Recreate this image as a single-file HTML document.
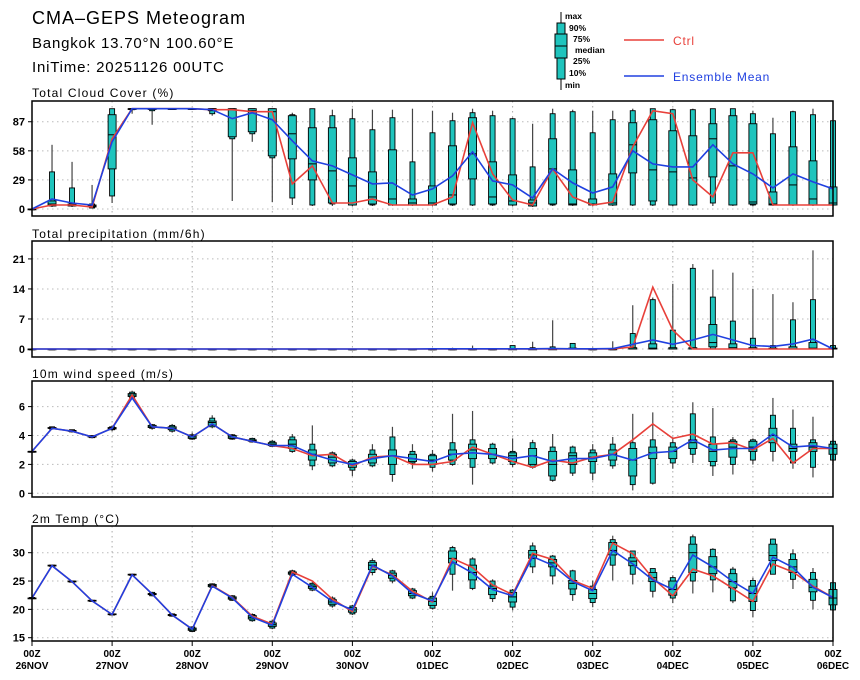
<!DOCTYPE html>
<html><head><meta charset="utf-8"><style>
html,body{margin:0;padding:0;background:#fff}
svg{display:block;font-family:"Liberation Sans",sans-serif}
</style></head><body>
<svg id="chart" width="860" height="680" viewBox="0 0 860 680" xmlns="http://www.w3.org/2000/svg">
<text x="32" y="24" font-size="18" letter-spacing="1">CMA–GEPS Meteogram</text>
<text x="32" y="48" font-size="15" letter-spacing="0.8">Bangkok 13.70°N 100.60°E</text>
<text x="32" y="72" font-size="15" letter-spacing="0.8">IniTime: 20251126 00UTC</text>
<g font-size="8.5" font-weight="bold">
<line x1="561" y1="12" x2="561" y2="90" stroke="#000"/>
<rect x="557" y="23" width="8" height="56" fill="#1fc4bd" stroke="#000"/>
<rect x="555" y="34" width="12" height="24" fill="#1fc4bd" stroke="#000"/>
<line x1="555" y1="46" x2="567" y2="46" stroke="#000"/>
<text x="565" y="19">max</text><text x="569" y="31">90%</text><text x="573" y="42">75%</text>
<text x="575" y="53">median</text><text x="573" y="64">25%</text><text x="569" y="76">10%</text><text x="565" y="88">min</text>
<line x1="624" y1="40" x2="664" y2="40" stroke="#e8403a" stroke-width="1.5"/>
<text x="673" y="45" font-size="12" font-weight="normal" fill="#e8403a" letter-spacing="0.8">Ctrl</text>
<line x1="624" y1="76" x2="664" y2="76" stroke="#2040e0" stroke-width="1.5"/>
<text x="673" y="81" font-size="12" font-weight="normal" fill="#2040e0" letter-spacing="0.8">Ensemble Mean</text>
</g>
</svg>
<script>
const dayLabels = ["26NOV","27NOV","28NOV","29NOV","30NOV","01DEC","02DEC","03DEC","04DEC","05DEC","06DEC"];
const cloudTicks = [0,29,58,87];
const precipTicks = [0,7,14,21];
const windTicks = [0,2,4,6];
const tempTicks = [15,20,25,30];
const cloudCtrl = [0,4,4,2,70,100,100,100,100,99,99,97,97,25,43,6,6,10,4,4,4,12,86,35,9,4,40,12,4,7,62,98,95,29,12,56,56,4,4,4,4];
const cloudMean = [0,10,6,4,67,100,100,100,100,99,90,96,89,68,48,43,34,25,26,14,20,33,57,28,24,11,40,26,16,22,58,45,42,42,64,45,35,21,35,27,20];
const cloudBox = [[0,0,0,0,0,0,0],[2,3,3,5,8,37,64],[2,3,3,4,5,21,47],[1,1,2,3,4,5,24],[6,13,40,74,94,100,100],[95,99,100,100,100,100,100],[84,98,100,100,100,100,100],[100,100,100,100,100,100,100],[100,100,100,100,100,100,100],[93,95,98,100,100,100,100],[8,70,72,99,100,100,100],[67,75,77,98,100,100,100],[7,51,53,97,100,100,100],[4,11,50,75,93,94,96],[3,4,29,45,81,100,100],[3,5,6,38,81,93,99],[3,4,4,23,51,90,100],[3,4,5,12,37,79,99],[3,4,4,10,59,91,99],[3,4,4,6,10,47,100],[3,4,4,6,23,76,98],[3,4,5,14,63,88,96],[3,4,30,55,91,96,100],[3,4,5,12,47,93,98],[3,4,4,8,34,90,91],[2,3,3,6,9,42,85],[3,4,5,40,70,95,100],[3,4,4,5,39,97,99],[3,4,4,5,10,76,98],[3,4,4,6,35,89,98],[3,4,36,64,86,98,100],[3,4,8,39,89,100,100],[3,4,4,37,78,99,100],[3,4,4,31,73,99,100],[3,6,32,70,85,100,100],[3,4,4,43,93,100,100],[3,4,5,7,85,95,98],[3,4,4,5,17,75,91],[3,4,4,24,62,97,98],[3,4,4,10,48,94,100],[3,4,4,6,22,88,88]];
const precipCtrl = [0,0,0,0,0,0,0,0,0,0,0,0,0,0,0,0,0,0,0,0,0,0,0,0,0,0,0,0,0,0,0.5,14.4,4.4,0,0,0,0,0,0,0,0];
const precipMean = [0,0,0,0,0,0,0,0,0,0,0,0,0,0,0,0,0,0,0,0,0.05,0.05,0.05,0.05,0.05,0.05,0.1,0.05,0.05,0.1,1.1,2.1,1.1,2.1,3.4,2.1,0.8,0.6,1.2,2.3,0];
const precipBox = [[0,0,0,0,0,0,0],[0,0,0,0,0,0,0],[0,0,0,0,0,0,0],[0,0,0,0,0,0,0],[0,0,0,0,0,0,0],[0,0,0,0,0,0,0],[0,0,0,0,0,0,0],[0,0,0,0,0,0,0],[0,0,0,0,0,0,0],[0,0,0,0,0,0,0],[0,0,0,0,0,0,0],[0,0,0,0,0,0,0],[0,0,0,0,0,0,0],[0,0,0,0,0,0,0],[0,0,0,0,0,0,0],[0,0,0,0,0,0,0],[0,0,0,0,0,0,0],[0,0,0,0,0,0,0],[0,0,0,0,0,0,0],[0,0,0,0,0,0,0],[0,0,0,0,0,0,0],[0,0,0,0,0,0,0.3],[0,0,0,0,0,0,0.8],[0,0,0,0,0,0,0.2],[0,0,0,0,0,0.8,0.8],[0,0,0,0,0,0.3,1.7],[0,0,0,0,0,0.5,6.7],[0,0,0,0,0.2,1.3,1.3],[0,0,0,0,0,0,0.3],[0,0,0,0,0,0,1.8],[0,0,0,0,0.3,3.6,10.2],[0,0,0,0.2,1.2,11.5,12],[0,0,0,0,0.3,4.4,15.2],[0,0,0,0,0.3,18.8,19.8],[0,0,0.5,1.5,5.7,12.1,18.5],[0,0,0,0.3,1.2,6.5,17.8],[0,0,0,0,0.3,2.5,14],[0,0,0,0,0.2,0.8,12.8],[0,0,0,0,0.5,6.8,10.9],[0,0,0,0.2,1.5,11.5,23],[0,0,0,0,0.2,0.8,0.8]];
const windCtrl = [2.9,4.5,4.3,3.9,4.5,6.8,4.6,4.5,3.9,4.8,3.9,3.6,3.3,3.1,2.6,2.7,1.9,2.5,2.6,2.0,2.0,2.2,3.2,2.7,2.2,1.8,2.3,2.1,2.5,2.7,3.7,4.8,3.8,4.1,3.4,3.5,3.0,3.8,2.1,3.1,3.1];
const windMean = [2.9,4.5,4.3,3.9,4.5,6.6,4.6,4.5,3.9,4.8,3.9,3.6,3.3,3.3,2.7,2.3,2.0,2.4,2.6,2.4,2.2,2.7,2.8,2.7,2.4,2.6,2.2,2.4,2.4,2.7,2.3,2.8,2.9,3.7,3.0,3.1,3.1,4.1,3.2,3.3,3.1];
const windBox = [[2.9,2.9,2.9,2.9,2.9,2.9,2.9],[4.4,4.45,4.5,4.5,4.55,4.6,4.6],[4.2,4.25,4.3,4.3,4.35,4.4,4.4],[3.8,3.85,3.9,3.9,3.95,4.0,4.0],[4.3,4.4,4.45,4.5,4.55,4.6,4.7],[6.5,6.6,6.7,6.8,6.9,7.0,7.1],[4.4,4.5,4.55,4.6,4.7,4.75,4.8],[4.2,4.3,4.4,4.5,4.6,4.7,4.8],[3.7,3.75,3.8,3.9,4.0,4.05,4.2],[4.5,4.6,4.7,4.9,5.0,5.2,5.4],[3.7,3.75,3.8,3.9,4.0,4.05,4.1],[3.5,3.55,3.6,3.65,3.7,3.8,3.85],[3.2,3.25,3.3,3.4,3.5,3.6,3.7],[2.8,2.9,3.1,3.4,3.7,3.9,4.1],[1.6,1.9,2.3,2.7,3.0,3.4,4.7],[1.8,1.9,2.1,2.5,2.7,2.8,2.9],[1.2,1.6,1.8,2.0,2.2,2.3,2.4],[1.8,1.9,2.1,2.4,2.7,3.0,3.4],[0.8,1.3,2.0,2.6,3.0,3.9,4.6],[1.7,2.1,2.2,2.4,2.7,2.9,3.4],[1.5,1.8,2.0,2.3,2.6,2.7,3.0],[1.9,2.0,2.3,2.7,3.0,3.5,5.5],[0.6,1.8,2.4,3.0,3.4,3.7,5.7],[2.0,2.1,2.4,2.7,3.1,3.4,3.5],[1.8,2.0,2.2,2.6,2.8,2.9,3.8],[1.7,1.8,2.0,2.6,3.1,3.5,3.7],[0.8,0.9,1.2,2.0,2.9,3.2,4.1],[1.2,1.4,2.0,2.6,2.8,3.2,3.3],[0.9,1.4,2.2,2.5,2.8,3.0,3.4],[1.7,1.9,2.3,2.7,3.0,3.4,3.9],[0.2,0.6,1.2,2.3,3.1,3.5,5.5],[0.6,0.7,2.4,2.8,3.2,3.7,5.6],[1.7,2.1,2.4,2.9,3.2,3.5,3.8],[2.1,2.7,3.1,3.5,3.7,5.5,6.3],[1.2,1.9,2.2,2.9,3.4,3.9,5.9],[1.3,2.0,2.5,3.2,3.6,3.7,3.9],[2.0,2.3,2.9,3.2,3.6,3.7,3.8],[2.2,2.9,3.5,4.0,4.5,5.4,6.6],[1.7,2.1,2.9,3.1,3.4,4.5,5.8],[1.1,1.8,2.9,3.2,3.5,3.7,5.3],[2.2,2.3,2.7,3.1,3.4,3.6,3.7]];
const tempCtrl = [22.0,27.7,24.9,21.5,19.1,26.1,22.7,19.0,16.5,24.2,22.1,18.8,17.4,26.6,25.0,21.8,19.6,27.6,26.1,23.2,21.3,29.0,27.4,24.3,22.6,29.9,28.8,25.1,23.7,31.7,29.8,25.5,22.4,27.1,25.9,23.7,21.4,28.0,26.6,24.1,22.1];
const tempMean = [22.0,27.7,24.9,21.5,19.1,26.1,22.7,19.0,16.5,24.1,22.0,18.6,17.2,26.2,23.9,21.4,19.9,27.8,25.9,22.8,21.5,28.4,26.4,23.5,22.4,29.3,27.8,24.9,23.3,30.4,28.0,25.2,23.5,29.6,27.5,24.9,22.8,29.2,27.4,23.9,22.1];
const tempBox = [[21.9,21.9,22.0,22.0,22.0,22.1,22.1],[27.5,27.6,27.7,27.7,27.8,27.8,27.9],[24.7,24.8,24.9,24.9,25.0,25.0,25.1],[21.3,21.4,21.5,21.5,21.6,21.6,21.7],[18.9,19.0,19.1,19.1,19.2,19.2,19.3],[25.9,26.0,26.1,26.1,26.2,26.2,26.3],[22.3,22.4,22.6,22.7,22.8,23.0,23.1],[18.7,18.8,18.9,19.0,19.1,19.2,19.3],[16.0,16.1,16.3,16.5,16.7,16.9,17.0],[23.8,23.9,24.0,24.2,24.4,24.5,24.6],[21.5,21.6,21.8,22.0,22.2,22.4,22.5],[17.8,18.0,18.3,18.6,18.9,19.1,19.3],[16.5,16.7,17.0,17.3,17.6,17.9,18.2],[25.8,26.0,26.2,26.4,26.6,26.8,27.0],[23.2,23.4,23.7,24.0,24.3,24.6,24.8],[20.3,20.6,20.9,21.3,21.7,22.0,22.3],[19.0,19.2,19.5,19.9,20.3,20.6,20.8],[26.0,26.5,27.0,27.8,28.3,28.6,29.0],[24.6,25.0,25.5,26.0,26.4,26.8,27.0],[21.8,22.0,22.4,22.8,23.3,23.6,23.8],[20.0,20.2,20.7,21.4,22.0,22.3,23.0],[23.3,26.2,28.2,29.0,30.3,30.9,31.2],[23.4,23.7,25.2,26.5,27.8,28.9,29.2],[21.3,21.9,22.6,23.7,24.1,25.0,25.3],[19.8,20.4,21.3,22.2,23.0,23.4,23.6],[26.4,27.5,29.0,29.6,30.4,31.2,31.8],[24.4,25.9,27.5,28.2,28.8,29.4,29.6],[21.5,22.6,23.6,24.6,25.1,26.8,27.0],[20.4,21.2,21.9,22.8,23.5,24.1,25.1],[25.1,27.8,29.6,30.4,31.8,32.3,33.0],[24.4,26.2,27.7,28.5,29.1,30.3,30.3],[22.1,23.2,24.9,25.6,26.5,27.2,27.2],[21.1,22.0,22.5,23.5,25.0,25.6,26.0],[22.8,25.0,26.5,30.0,31.5,32.8,33.2],[23.0,25.2,26.3,27.5,29.3,30.6,30.8],[21.1,21.5,23.8,24.9,26.3,27.1,27.5],[18.6,19.8,21.4,22.8,24.1,25.1,25.6],[26.2,26.2,28.6,29.5,31.5,32.4,32.5],[23.6,25.3,26.5,27.5,28.8,29.8,30.6],[20.0,21.6,23.1,23.9,25.3,26.5,27.3],[19.7,19.9,20.8,22.0,23.5,24.7,24.7]];

const NS = "http://www.w3.org/2000/svg";
const svg = document.getElementById('chart');
const X0 = 32, X1 = 833, NSTEP = 40;
function xAt(i){ return X0 + i*(X1-X0)/NSTEP; }
function mk(tag, attrs, parent){ const e=document.createElementNS(NS,tag); for(const k in attrs) e.setAttribute(k,attrs[k]); (parent||svg).appendChild(e); return e; }

const panels = [
 {name:'cloud', title:'Total Cloud Cover (%)', top:101, bot:216, y0:209, scale:1.003, base:0, ticks:cloudTicks, box:cloudBox, ctrl:cloudCtrl, mean:cloudMean, titleY:97},
 {name:'precip', title:'Total precipitation (mm/6h)', top:241, bot:357, y0:349, scale:4.29, base:0, ticks:precipTicks, box:precipBox, ctrl:precipCtrl, mean:precipMean, titleY:238},
 {name:'wind', title:'10m wind speed (m/s)', top:381, bot:497, y0:493.3, scale:14.45, base:0, ticks:windTicks, box:windBox, ctrl:windCtrl, mean:windMean, titleY:378},
 {name:'temp', title:'2m Temp (°C)', top:526, bot:641, y0:637.7, scale:5.667, base:15, ticks:tempTicks, box:tempBox, ctrl:tempCtrl, mean:tempMean, titleY:523}
];

panels.forEach(p=>{
  const yAt = v => p.y0 - (v - p.base)*p.scale;
  const g = mk('g',{});
  
  
  const t = mk('text',{x:32,y:p.titleY,'font-size':12,'letter-spacing':1.2},g);
  t.textContent = p.title;
  
  
  for(let d=1; d<dayLabels.length-1; d++){
    const gl = mk('line',{x1:xAt(d*4),x2:xAt(d*4),y1:p.top,y2:p.bot,stroke:'#aaa','stroke-dasharray':'1.5,3.5'},g);
    
    
  }
  p.ticks.forEach(tv=>{
    const y = yAt(tv);
    const hl = mk('line',{x1:X0,x2:X1,y1:y,y2:y,stroke:'#bbb','stroke-dasharray':'1.5,3.5'},g);
    
    
    mk('line',{x1:X0-4,x2:X0,y1:y,y2:y,stroke:'#000'},g);
    const tl = mk('text',{x:X0-7,y:y+4,'font-size':11,'font-weight':'bold','text-anchor':'end'},g);
    tl.textContent = tv;
    
    
  });
  p.box.forEach((b,i)=>{
    const x = xAt(i);
    const bg = mk('g',{},g);
    
    
    mk('line',{x1:x,x2:x,y1:yAt(b[0]),y2:yAt(b[6]),stroke:'#444','stroke-width':1.2},bg);
    const h1 = Math.max(yAt(b[1])-yAt(b[5]),0.8);
    mk('rect',{x:x-2.5,y:yAt(b[5]),width:5,height:h1,fill:'#1fc4bd',stroke:'#000','stroke-width':0.9},bg);
    const h2 = Math.max(yAt(b[2])-yAt(b[4]),0.8);
    mk('rect',{x:x-4,y:yAt(b[4]),width:8,height:h2,fill:'#1fc4bd',stroke:'#000','stroke-width':0.9},bg);
    mk('line',{x1:x-4,x2:x+4,y1:yAt(b[3]),y2:yAt(b[3]),stroke:'#000','stroke-width':1},bg);
  });
  const lineOf = (arr)=>arr.map((v,i)=>xAt(i).toFixed(1)+','+yAt(v).toFixed(1)).join(' ');
  const cl = mk('polyline',{points:lineOf(p.ctrl),fill:'none',stroke:'#e8403a','stroke-width':1.6},g);
  
  
  const ml = mk('polyline',{points:lineOf(p.mean),fill:'none',stroke:'#2040e0','stroke-width':1.6},g);
  
  
  const fr = mk('rect',{x:X0,y:p.top,width:X1-X0,height:p.bot-p.top,fill:'none',stroke:'#000','stroke-width':1.5},g);
  
  
});
dayLabels.forEach((d,k)=>{
  const x = xAt(k*4);
  mk('line',{x1:x,x2:x,y1:641,y2:646,stroke:'#000'});
  const a = mk('text',{x:x,y:657,'font-size':10,'font-weight':'bold','text-anchor':'middle'});
  a.textContent = '00Z';
  
  
  const b = mk('text',{x:x,y:669,'font-size':10,'font-weight':'bold','text-anchor':'middle'});
  b.textContent = d;
  
  
});
</script>
</body></html>
